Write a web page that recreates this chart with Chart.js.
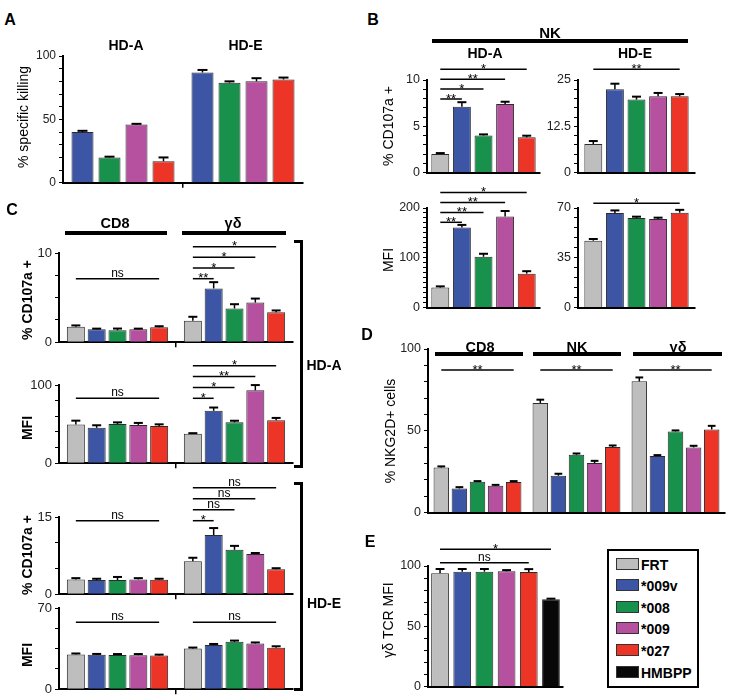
<!DOCTYPE html>
<html><head><meta charset="utf-8">
<script src="https://cdn.jsdelivr.net/npm/chart.js@4.4.1/dist/chart.umd.min.js"></script>
<style>
html,body{margin:0;padding:0;background:#fff;}
#fig{position:relative;width:730px;height:699px;overflow:hidden;font-family:"Liberation Sans",Arial,Helvetica,sans-serif;color:#000;}
canvas{position:absolute;}
.t{position:absolute;white-space:nowrap;transform:translate(-50%,-50%);line-height:1;}
.b{font-weight:bold;}
.r{transform:translate(-50%,-50%) rotate(-90deg);}
.ln{position:absolute;background:#000;}
.lg{position:absolute;box-sizing:border-box;border:2px solid #000;background:#fff;}
.sw{position:absolute;box-sizing:border-box;border:1px solid #333;}
.lt{position:absolute;font-weight:bold;font-size:14px;line-height:1;transform:translateY(-50%);white-space:nowrap;}
</style></head><body><div id="fig"></div>
<script>
// ================= DATA =================
const SERIES = ['FRT', '*009v', '*008', '*009', '*027', 'HMBPP'];
const COLORS = ['#bebebe', '#3c55a5', '#17914b', '#b5519f', '#ec3527', '#080808'];

// Panel A: % specific killing (series *009v, *008, *009, *027)
const aGroups = ['HD-A', 'HD-E'];
const aHDA = [40, 20, 46, 17];
const aHDAerr = [1, 0.6, 0.5, 3];
const aHDE = [87, 79, 80, 81.5];
const aHDEerr = [2, 1, 2.5, 1.5];

// Panel B: NK cells (series FRT, *009v, *008, *009, *027)
const bCD107aHDA = [2.0, 7.1, 4.0, 7.4, 3.8];
const bCD107aHDAerr = [0.1, 0.5, 0.12, 0.25, 0.18];
const bCD107aHDE = [7.7, 22.5, 19.7, 20.6, 20.6];
const bCD107aHDEerr = [0.8, 1.5, 0.8, 0.9, 0.6];
const bMFIHDA = [40, 161, 102, 183, 68];
const bMFIHDAerr = [2.5, 5, 6, 11, 5];
const bMFIHDE = [47, 66.5, 63, 62.3, 66.7];
const bMFIHDEerr = [1.2, 1.8, 0.9, 0.9, 2];

// Panel C: CD8 and γδ groups
const cGroups = ['CD8', 'γδ'];
const cCD107aHDA_CD8 = [1.73, 1.44, 1.33, 1.44, 1.67];
const cCD107aHDA_CD8err = [0.15, 0.08, 0.2, 0.08, 0.12];
const cCD107aHDA_GD = [2.4, 6.03, 3.78, 4.44, 3.37];
const cCD107aHDA_GDerr = [0.45, 0.7, 0.48, 0.45, 0.19];
const cMFIHDA_CD8 = [49.4, 45.2, 50.2, 49, 47.7];
const cMFIHDA_CD8err = [5, 3.3, 2, 2.5, 2];
const cMFIHDA_GD = [37.6, 67, 52.3, 93.2, 54.9];
const cMFIHDA_GDerr = [0.8, 4.2, 2, 6.7, 3];
const cCD107aHDE_CD8 = [2.87, 2.75, 2.75, 2.87, 2.8];
const cCD107aHDE_CD8err = [0.25, 0.25, 0.6, 0.25, 0.2];
const cCD107aHDE_GD = [6.38, 11.5, 8.62, 7.8, 4.85];
const cCD107aHDE_GDerr = [0.7, 1.35, 0.77, 0.2, 0.2];
const cMFIHDE_CD8 = [30, 29.7, 29.5, 29.3, 29];
const cMFIHDE_CD8err = [0.8, 0.7, 0.8, 1, 0.8];
const cMFIHDE_GD = [35.1, 38, 40.8, 39.4, 35.7];
const cMFIHDE_GDerr = [0.8, 1, 1.1, 0.9, 1.3];

// Panel D: % NKG2D+ cells
const dGroups = ['CD8', 'NK', 'γδ'];
const dCD8 = [27.5, 14.7, 18.8, 16.3, 18.6];
const dCD8err = [0.7, 0.8, 0.4, 0.6, 0.6];
const dNK = [67, 22.5, 35.3, 30.2, 40];
const dNKerr = [2, 1.2, 0.8, 1.4, 1];
const dGD = [80.2, 34.5, 49.6, 39.8, 50.8];
const dGDerr = [2.4, 0.6, 0.6, 1, 2.2];

// Panel E: γδ TCR MFI (series FRT ... HMBPP)
const eTCR = [94, 95.3, 95.3, 95.6, 95, 72.4];
const eTCRerr = [3.5, 2.2, 2.2, 1, 2.4, 0.5];

// Significance annotations: [label, group, from series, to series, stacking level]
const sigB1 = [['**',0,0,1,0],['*',0,0,2,1],['**',0,0,3,2],['*',0,0,4,3]];
const sigB2 = [['**',0,0,4,0]];
const sigB3 = [['**',0,0,1,0],['**',0,0,2,1],['**',0,0,3,2],['*',0,0,4,3]];
const sigB4 = [['*',0,0,4,0]];
const sigC1 = [['ns',0,0,4,0],['**',1,0,1,0],['*',1,0,2,1],['*',1,0,3,2],['*',1,0,4,3]];
const sigC2 = [['ns',0,0,4,0],['*',1,0,1,0],['*',1,0,2,1],['**',1,0,3,2],['*',1,0,4,3]];
const sigC3 = [['ns',0,0,4,0],['*',1,0,1,0],['ns',1,0,2,1],['ns',1,0,3,2],['ns',1,0,4,3]];
const sigC4 = [['ns',0,0,4,0],['ns',1,0,4,0]];
const sigD = [['**',0,0,4,0],['**',1,0,4,0],['**',2,0,4,0]];
const sigE = [['ns',0,0,4,0],['*',0,0,5,1]];

// ================= RENDER =================
const FONT = '"Liberation Sans", Arial, Helvetica, sans-serif';
Chart.defaults.font.family = FONT;
Chart.defaults.color = '#222';
const fig = document.getElementById('fig');

function txt(s, cx, cy, size, bold, rot) {
  const d = document.createElement('div');
  d.className = 't' + (bold ? ' b' : '') + (rot ? ' r' : '');
  d.style.left = cx + 'px'; d.style.top = cy + 'px'; d.style.fontSize = size + 'px';
  d.textContent = s; fig.appendChild(d); return d;
}
function rect(x1, y1, x2, y2) {
  const d = document.createElement('div'); d.className = 'ln';
  d.style.left = x1 + 'px'; d.style.top = y1 + 'px';
  d.style.width = (x2 - x1) + 'px'; d.style.height = (y2 - y1) + 'px';
  fig.appendChild(d);
}

const marks = {
  id: 'marks',
  afterDatasetsDraw(chart, args, opts) {
    const ctx = chart.ctx, ys = chart.scales.y;
    ctx.save();
    ctx.strokeStyle = '#000'; ctx.fillStyle = '#000';
    chart.data.datasets.forEach((ds, i) => {
      const meta = chart.getDatasetMeta(i);
      meta.data.forEach((bar, j) => {
        const v = ds.data[j], e = ds.errors[j];
        if (!e) return;
        const y0 = bar.y, y1 = ys.getPixelForValue(v + e);
        const cw = Math.min(bar.width * 0.5, 10);
        ctx.lineWidth = 1.5;
        ctx.beginPath(); ctx.moveTo(bar.x, y0); ctx.lineTo(bar.x, y1); ctx.stroke();
        ctx.lineWidth = 2;
        ctx.beginPath(); ctx.moveTo(bar.x - cw / 2, y1); ctx.lineTo(bar.x + cw / 2, y1); ctx.stroke();
      });
    });
    const top = chart.chartArea.top;
    (opts.items || []).forEach(([lab, g, a, b, lvl]) => {
      const xa = chart.getDatasetMeta(a).data[g].x;
      const xb = chart.getDatasetMeta(b).data[g].x;
      const y = top + opts.base - lvl * opts.step;
      ctx.lineWidth = 1.5;
      ctx.beginPath(); ctx.moveTo(xa, y); ctx.lineTo(xb, y); ctx.stroke();
      ctx.textAlign = 'center'; ctx.textBaseline = 'alphabetic';
      if (lab === 'ns') { ctx.font = '12px ' + FONT; ctx.fillText(lab, (xa + xb) / 2, y - 2); }
      else { ctx.font = '13px ' + FONT; ctx.fillText(lab, (xa + xb) / 2, y + 3.5); }
    });
    ctx.restore();
  }
};

function makeChart(spec) {
  const yW = 45, xH = 10, padTop = 45, padRight = 4;
  const L = spec.L, T = spec.T, R = spec.R, B = spec.B;
  const cv = document.createElement('canvas');
  const w = R - L + yW + padRight, h = B - T + padTop + xH;
  cv.width = w; cv.height = h;
  cv.style.left = (L - yW) + 'px'; cv.style.top = (T - padTop) + 'px';
  cv.style.width = w + 'px'; cv.style.height = h + 'px';
  fig.appendChild(cv);
  const datasets = spec.series.map((sIdx, k) => ({
    label: SERIES[sIdx],
    data: spec.rows.map(r => r[k]),
    errors: spec.errs.map(r => r[k]),
    backgroundColor: COLORS[sIdx],
    borderColor: '#2b2b2b',
    borderWidth: 1,
    categoryPercentage: spec.cat,
    barPercentage: spec.bar
  }));
  const isMajor = v => Math.abs(v / spec.major - Math.round(v / spec.major)) < 1e-6;
  new Chart(cv, {
    type: 'bar',
    data: { labels: spec.groups, datasets },
    options: {
      responsive: false, maintainAspectRatio: false, animation: false,
      layout: { padding: { top: padTop, right: padRight, left: 0, bottom: 0 } },
      plugins: {
        legend: { display: false }, tooltip: { enabled: false }, title: { display: false },
        marks: { items: spec.sig || [], base: spec.base || 0, step: spec.step || 10 }
      },
      scales: {
        x: {
          type: 'category',
          grid: {
            display: true, offset: true, drawOnChartArea: false, drawTicks: true, tickLength: 5, lineWidth: 1.5,
            color: c => (spec.xTicks && c.index === 1) ? '#000' : 'rgba(0,0,0,0)'
          },
          ticks: { display: false },
          border: { display: true, color: '#000', width: 2 },
          afterFit: s => { s.height = xH; }
        },
        y: {
          min: 0, max: spec.yMax,
          ticks: {
            stepSize: spec.minor, autoSkip: false, maxTicksLimit: 1000, padding: 3,
            font: { size: spec.tick || 12.5 }, color: '#222',
            callback: v => isMajor(v) ? String(Math.round(v * 1000) / 1000) : ''
          },
          grid: { drawOnChartArea: false, drawTicks: true, tickLength: 4, color: '#000', lineWidth: 1 },
          border: { display: true, color: '#000', width: 2 },
          afterFit: s => { s.width = yW; }
        }
      }
    },
    plugins: [marks]
  });
}

const S5 = [0, 1, 2, 3, 4];

// Panel A
makeChart({ L: 63, T: 56, R: 303, B: 183, yMax: 100, major: 50, minor: 10, tick: 12,
  groups: aGroups, series: [1, 2, 3, 4], rows: [aHDA, aHDE], errs: [aHDAerr, aHDEerr],
  cat: 0.9, bar: 0.815, xTicks: true });
// Panel B
makeChart({ L: 427, T: 80, R: 540, B: 173, yMax: 10, major: 5, minor: 1,
  groups: ['HD-A'], series: S5, rows: [bCD107aHDA], errs: [bCD107aHDAerr],
  cat: 0.956, bar: 0.83, sig: sigB1, base: 19, step: 9.9 });
makeChart({ L: 578, T: 80, R: 695, B: 173, yMax: 25, major: 12.5, minor: 2.5,
  groups: ['HD-E'], series: S5, rows: [bCD107aHDE], errs: [bCD107aHDEerr],
  cat: 0.923, bar: 0.83, sig: sigB2, base: -10.7, step: 10 });
makeChart({ L: 427, T: 208, R: 540, B: 308, yMax: 200, major: 100, minor: 10,
  groups: ['HD-A'], series: S5, rows: [bMFIHDA], errs: [bMFIHDAerr],
  cat: 0.956, bar: 0.83, sig: sigB3, base: 14.3, step: 9.9 });
makeChart({ L: 578, T: 208, R: 695, B: 308, yMax: 70, major: 35, minor: 7,
  groups: ['HD-E'], series: S5, rows: [bMFIHDE], errs: [bMFIHDEerr],
  cat: 0.923, bar: 0.83, sig: sigB4, base: -4.7, step: 10 });
// Panel C
makeChart({ L: 59, T: 253, R: 293, B: 343, yMax: 10, major: 10, minor: 2.5, tick: 13,
  groups: cGroups, series: S5, rows: [cCD107aHDA_CD8, cCD107aHDA_GD], errs: [cCD107aHDA_CD8err, cCD107aHDA_GDerr],
  cat: 0.89, bar: 0.865, xTicks: true, sig: sigC1, base: 25.7, step: 10.67 });
makeChart({ L: 59, T: 385, R: 293, B: 464, yMax: 100, major: 100, minor: 20, tick: 13,
  groups: cGroups, series: S5, rows: [cMFIHDA_CD8, cMFIHDA_GD], errs: [cMFIHDA_CD8err, cMFIHDA_GDerr],
  cat: 0.89, bar: 0.865, xTicks: true, sig: sigC2, base: 13.3, step: 10.87 });
makeChart({ L: 59, T: 517, R: 293, B: 595, yMax: 15, major: 15, minor: 5, tick: 13,
  groups: cGroups, series: S5, rows: [cCD107aHDE_CD8, cCD107aHDE_GD], errs: [cCD107aHDE_CD8err, cCD107aHDE_GDerr],
  cat: 0.89, bar: 0.865, xTicks: true, sig: sigC3, base: 3.7, step: 11 });
makeChart({ L: 59, T: 608, R: 293, B: 690, yMax: 70, major: 70, minor: 17.5, tick: 13,
  groups: cGroups, series: S5, rows: [cMFIHDE_CD8, cMFIHDE_GD], errs: [cMFIHDE_CD8err, cMFIHDE_GDerr],
  cat: 0.89, bar: 0.865, xTicks: true, sig: sigC4, base: 14.3, step: 11 });
// Panel D
makeChart({ L: 428, T: 349, R: 725, B: 513, yMax: 100, major: 50, minor: 10,
  groups: dGroups, series: S5, rows: [dCD8, dNK, dGD], errs: [dCD8err, dNKerr, dGDerr],
  cat: 0.914, bar: 0.856, sig: sigD, base: 21, step: 10 });
// Panel E
makeChart({ L: 428, T: 566, R: 563, B: 687, yMax: 100, major: 50, minor: 10,
  groups: ['γδ'], series: [0, 1, 2, 3, 4, 5], rows: [eTCR], errs: [eTCRerr],
  cat: 0.986, bar: 0.8, sig: sigE, base: -3.3, step: 13.4 });

// ---------- Text & decorations ----------
// Panel letters
txt('A', 10, 20, 16, true); txt('B', 373, 20, 16, true); txt('C', 12, 210, 16, true);
txt('D', 367, 335, 16, true); txt('E', 370, 542, 16, true);
// A headers
txt('HD-A', 126, 44.5, 14, true); txt('HD-E', 245.5, 44.5, 14, true);
txt('% specific killing', 23, 117, 14, false, true);
// B headers
txt('NK', 550, 32, 15, true); rect(432, 39, 688, 43);
txt('HD-A', 485, 53, 14, true); txt('HD-E', 635, 53, 14, true);
txt('% CD107a +', 388, 126, 14, false, true);
txt('MFI', 388, 260, 14, false, true);
// C headers
txt('CD8', 115, 223, 14.5, true); txt('γδ', 233, 223, 14.5, true);
rect(65, 231, 167, 235); rect(182, 231, 286, 235);
rect(300, 240, 303, 468); rect(294, 240, 303, 243); rect(294, 465, 303, 468);
txt('HD-A', 324, 365, 14, true);
rect(300, 482, 303, 691); rect(294, 482, 303, 485); rect(294, 688, 303, 691);
txt('HD-E', 324, 603, 14, true);
txt('% CD107a +', 27, 300, 14, true, true);
txt('MFI', 27, 428, 14, true, true);
txt('% CD107a +', 27, 555, 14, true, true);
txt('MFI', 27, 655, 14, true, true);
// D headers
txt('CD8', 480, 346.5, 14.5, true); txt('NK', 577, 346.5, 14.5, true); txt('γδ', 678, 346.5, 14.5, true);
rect(435, 352, 523, 355.5); rect(533, 352, 621, 355.5); rect(633, 352, 722, 355.5);
txt('% NKG2D+ cells', 390, 431, 14, false, true);
// E
txt('γδ TCR MFI', 388, 620, 14, false, true);
// Legend
(function () {
  const box = document.createElement('div'); box.className = 'lg';
  box.style.left = '607px'; box.style.top = '549px'; box.style.width = '92px'; box.style.height = '139px';
  fig.appendChild(box);
  const tops = [558, 579, 601, 622, 644, 666];
  SERIES.forEach((name, i) => {
    const sw = document.createElement('div'); sw.className = 'sw';
    sw.style.left = '616px'; sw.style.top = tops[i] + 'px'; sw.style.width = '23px'; sw.style.height = '12px';
    sw.style.background = COLORS[i]; fig.appendChild(sw);
    const t = document.createElement('div'); t.className = 'lt';
    t.style.left = '641px'; t.style.top = (tops[i] + 6.5) + 'px'; t.textContent = name;
    fig.appendChild(t);
  });
})();
</script>
</body></html>
